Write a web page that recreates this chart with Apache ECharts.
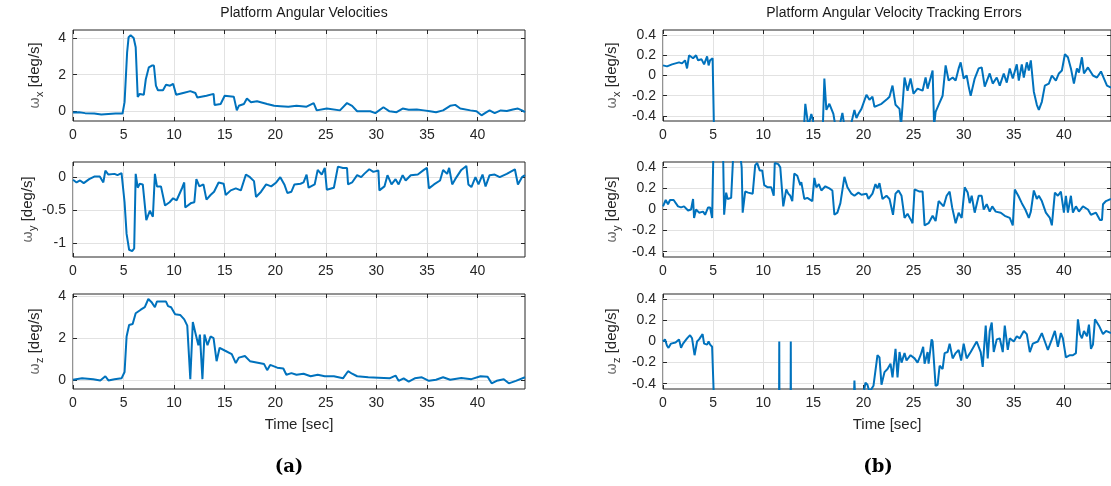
<!DOCTYPE html>
<html>
<head>
<meta charset="utf-8">
<script src="https://cdn.jsdelivr.net/npm/echarts@6/dist/echarts.min.js"></script>
<style>
  html, body { margin: 0; padding: 0; background: #fff; }
  #chart { width: 1111px; height: 486px; }
</style>
</head>
<body>
<div id="chart"></div>
<script>
// ---- data: [time (s), value (deg/s)] ----
const wxVel = [
  [0, -0.07], [0.6, -0.05], [1.2, -0.1], [2.1, -0.12], [2.8, -0.18], [3.5, -0.15], [4.2, -0.12], [4.9, -0.12],
  [5.1, 0.5], [5.35, 3.2], [5.5, 4.05], [5.7, 4.15], [6.0, 4.0], [6.2, 3.5], [6.4, 0.78], [6.6, 0.95], [7.0, 0.9],
  [7.2, 1.75], [7.5, 2.4], [7.8, 2.5], [8.0, 2.5], [8.2, 1.4], [8.4, 1.15], [8.9, 1.15], [9.2, 1.45], [9.6, 1.4],
  [9.9, 1.5], [10.2, 0.9], [10.9, 1.0], [11.6, 1.1], [12.1, 1.0], [12.3, 0.75], [13.2, 0.85], [13.9, 0.95],
  [14.0, 0.35], [14.6, 0.4], [15.0, 0.85], [15.9, 0.8], [16.2, 0.05], [16.4, 0.3], [16.9, 0.4], [17.2, 0.7],
  [17.6, 0.5], [18.2, 0.55], [19.2, 0.4], [19.9, 0.3], [20.5, 0.28], [21.3, 0.25], [22.1, 0.3], [23.1, 0.25],
  [23.8, 0.45], [24.1, 0.05], [25.1, 0.15], [26.4, 0.05], [27.1, 0.45], [27.6, 0.3], [28.1, 0.0], [29.4, 0.0],
  [29.9, -0.1], [30.7, 0.22], [31.3, 0.0], [32.0, -0.05], [32.6, 0.15], [33.2, 0.08], [34.0, 0.1], [34.7, 0.05],
  [35.3, 0.0], [35.9, -0.05], [36.6, 0.05], [37.3, 0.3], [37.8, 0.35], [38.3, 0.15], [39.3, 0.05], [39.9, 0.0],
  [40.4, -0.22], [40.9, -0.05], [41.2, 0.05], [41.7, -0.1], [42.3, 0.05], [42.9, 0.02], [43.5, 0.1], [44.0, 0.15],
  [44.4, 0.05], [44.7, -0.05]
];
const wyVel = [
  [0, -0.04], [0.35, -0.08], [0.7, -0.05], [1.06, -0.09], [1.6, -0.03], [2.1, 0.01], [2.65, 0.01], [3.0, -0.08],
  [3.2, 0.1], [3.5, 0.04], [4.1, 0.05], [4.4, 0.03], [4.8, 0.06], [4.95, 0.08], [5.1, -0.38], [5.3, -0.86],
  [5.55, -1.1], [5.85, -1.12], [6.05, -1.08], [6.2, 0.05], [6.4, -0.16], [6.6, -0.1], [6.9, -0.11], [7.25, -0.65],
  [7.6, -0.51], [7.9, -0.6], [8.1, 0.05], [8.3, -0.14], [8.7, -0.14], [9.1, -0.43], [9.55, -0.38], [9.9, -0.32],
  [10.25, -0.35], [10.8, -0.16], [11.0, -0.08], [11.1, -0.46], [11.7, -0.39], [12.0, -0.38], [12.2, -0.03],
  [12.5, -0.14], [12.9, -0.11], [13.2, -0.34], [13.6, -0.27], [13.95, -0.22], [14.4, -0.08], [14.9, -0.1],
  [15.1, -0.27], [15.6, -0.2], [16.1, -0.17], [16.6, -0.2], [17.1, 0.04], [17.5, 0.0], [17.9, -0.06], [18.1, -0.3],
  [18.6, -0.22], [19.1, -0.11], [19.6, -0.14], [20.1, -0.08], [20.5, 0.0], [20.9, -0.11], [21.2, -0.24],
  [21.6, -0.22], [21.9, -0.11], [22.5, -0.1], [22.8, -0.08], [23.1, 0.04], [23.3, -0.16], [23.9, -0.11],
  [24.2, 0.11], [24.6, 0.04], [24.9, 0.14], [25.1, -0.19], [25.8, -0.16], [26.2, 0.16], [26.7, 0.14], [27.1, 0.14],
  [27.2, -0.11], [27.6, -0.08], [28.1, 0.03], [28.5, 0.0], [28.8, 0.05], [29.3, 0.12], [29.7, 0.08], [30.2, 0.1],
  [30.3, -0.2], [30.8, -0.14], [31.1, 0.03], [31.5, -0.11], [31.9, -0.03], [32.2, -0.11], [32.6, 0.03],
  [32.9, -0.05], [33.4, 0.03], [34.1, 0.04], [34.7, 0.11], [35.0, 0.14], [35.2, -0.17], [35.7, -0.11],
  [36.3, -0.05], [36.6, 0.11], [37.0, 0.05], [37.2, 0.14], [37.5, -0.11], [37.8, -0.03], [38.4, 0.11], [38.9, 0.17],
  [39.1, -0.11], [39.4, -0.15], [39.8, 0.0], [40.1, -0.11], [40.5, 0.04], [40.8, -0.14], [41.2, 0.03], [41.7, 0.04],
  [42.2, 0.0], [42.9, 0.05], [43.7, 0.12], [44.0, -0.11], [44.4, 0.0], [44.7, 0.03]
];
const wzVel = [
  [0, 0.0], [0.9, 0.07], [2.0, 0.03], [2.7, -0.03], [3.2, 0.17], [3.5, -0.03], [4.1, 0.03], [4.8, 0.07],
  [5.1, 0.37], [5.3, 2.07], [5.55, 2.62], [5.9, 2.67], [6.2, 3.18], [6.7, 3.35], [7.1, 3.47], [7.45, 3.86],
  [7.8, 3.69], [8.1, 3.47], [8.3, 3.74], [8.8, 3.74], [9.2, 3.74], [9.4, 3.52], [9.7, 3.47], [10.1, 3.13],
  [10.6, 3.1], [11.0, 2.89], [11.3, 2.59], [11.6, 0.03], [11.85, 2.76], [12.1, 2.25], [12.4, 1.65], [12.55, 2.16],
  [12.8, 0.03], [13.0, 2.16], [13.3, 1.65], [13.6, 2.07], [13.9, 1.99], [14.2, 0.89], [14.5, 1.53], [15.0, 1.4],
  [15.7, 1.23], [16.1, 0.8], [16.4, 1.06], [17.0, 1.14], [17.5, 0.89], [18.4, 0.8], [18.9, 0.75], [19.2, 0.46],
  [19.5, 0.71], [20.2, 0.58], [20.8, 0.54], [21.1, 0.24], [21.6, 0.32], [22.1, 0.24], [22.8, 0.29], [23.5, 0.17],
  [24.2, 0.24], [24.9, 0.17], [25.8, 0.17], [26.7, 0.07], [27.2, 0.41], [27.6, 0.29], [28.1, 0.17], [29.2, 0.12],
  [30.2, 0.1], [31.3, 0.07], [31.9, 0.2], [32.2, -0.05], [32.7, 0.07], [33.2, -0.09], [33.8, 0.07], [34.5, 0.12],
  [35.2, -0.05], [35.9, 0.0], [36.6, 0.12], [37.3, 0.0], [38.4, 0.09], [39.4, 0.03], [40.3, 0.17], [41.0, 0.15],
  [41.4, -0.17], [41.9, -0.05], [42.6, 0.03], [43.1, -0.17], [43.8, -0.05], [44.7, 0.12]
];
const wxErr = [
  [0, 0.1], [0.4, 0.09], [0.9, 0.11], [1.6, 0.13], [1.9, 0.12], [2.2, 0.15], [2.4, 0.07], [2.6, 0.2], [3.0, 0.17],
  [3.3, 0.2], [3.5, 0.15], [3.85, 0.16], [4.1, 0.11], [4.4, 0.19], [4.55, 0.1], [4.7, 0.15], [4.95, 0.17],
  [5.1, -0.6], [5.4, -3.2], [5.7, -4.1], [6.3, -1.5], [7.5, -2.4], [8.3, -1.2], [10.0, -1.3], [12.0, -0.9],
  [13.9, -0.8], [14.2, -0.28], [14.5, -0.5], [14.8, -0.38], [15.0, -0.46], [15.5, -0.6], [15.95, -0.5],
  [16.1, -0.03], [16.3, -0.34], [16.6, -0.28], [17.0, -0.38], [17.2, -0.5], [17.5, -0.55], [17.9, -0.37],
  [18.1, -0.5], [18.6, -0.55], [19.1, -0.34], [19.3, -0.42], [19.55, -0.37], [19.8, -0.33], [20.3, -0.19],
  [20.6, -0.24], [20.9, -0.21], [21.1, -0.31], [21.8, -0.28], [22.4, -0.23], [22.6, -0.21], [22.9, -0.1],
  [23.2, -0.29], [23.6, -0.33], [23.75, -0.5], [24.1, -0.02], [24.4, -0.15], [24.7, -0.03], [25.0, -0.18],
  [25.4, -0.13], [25.9, -0.15], [26.2, -0.02], [26.4, -0.13], [26.9, 0.05], [27.05, -0.5], [27.2, -0.36],
  [27.5, -0.29], [27.9, -0.2], [28.2, 0.1], [28.5, -0.05], [28.9, -0.02], [29.2, -0.05], [29.5, 0.07],
  [29.7, 0.13], [30.0, -0.03], [30.3, 0.0], [30.5, -0.11], [30.7, -0.2], [31.1, -0.03], [31.5, 0.07],
  [31.8, 0.08], [32.1, -0.11], [32.6, 0.02], [32.9, -0.08], [33.3, -0.02], [33.6, -0.1], [34.0, 0.02],
  [34.3, -0.07], [34.6, 0.07], [34.9, -0.03], [35.3, 0.11], [35.5, -0.05], [35.8, 0.11], [36.0, -0.02],
  [36.3, 0.13], [36.5, 0.05], [36.7, 0.15], [37.0, -0.16], [37.3, -0.29], [37.5, -0.34], [37.8, -0.26],
  [38.1, -0.1], [38.5, -0.08], [38.8, 0.0], [39.2, -0.05], [39.5, 0.02], [39.8, 0.05], [40.1, 0.21], [40.4, 0.18],
  [40.7, 0.07], [41.0, -0.08], [41.3, 0.07], [41.5, 0.03], [41.8, 0.18], [42.0, 0.02], [42.4, 0.08], [42.9, 0.0],
  [43.3, -0.02], [43.7, 0.04], [44.0, -0.03], [44.3, -0.1], [44.7, -0.12]
];
const wyErr = [
  [0, 0.03], [0.27, 0.09], [0.5, 0.05], [0.7, 0.09], [1.06, 0.09], [1.5, 0.03], [1.8, 0.02], [2.1, 0.03],
  [2.5, -0.01], [2.8, 0.0], [3.0, 0.1], [3.1, -0.08], [3.3, 0.0], [3.6, -0.03], [4.0, -0.02], [4.2, -0.05],
  [4.5, 0.02], [4.7, 0.02], [4.9, -0.08], [5.1, 0.9], [5.6, 1.1], [6.0, 0.5], [6.1, -0.05], [6.3, 0.16],
  [6.45, 0.1], [6.8, 0.11], [7.05, 0.6], [7.5, 0.7], [7.85, 0.4], [7.95, -0.03], [8.2, 0.17], [8.5, 0.16],
  [8.95, 0.15], [9.2, 0.42], [9.4, 0.44], [9.65, 0.37], [9.9, 0.37], [10.1, 0.23], [10.45, 0.21], [10.8, 0.21],
  [11.05, 0.13], [11.15, 0.44], [11.5, 0.43], [11.7, 0.4], [12.0, 0.03], [12.3, 0.19], [12.5, 0.15], [12.7, 0.13],
  [12.9, 0.08], [13.1, 0.34], [13.4, 0.32], [13.7, 0.23], [13.8, 0.26], [14.1, 0.1], [14.4, 0.11], [14.9, 0.08],
  [15.1, 0.3], [15.3, 0.21], [15.55, 0.24], [15.8, 0.18], [16.2, 0.22], [16.6, 0.2], [16.9, 0.18], [17.1, -0.05],
  [17.4, -0.03], [17.7, 0.06], [18.1, 0.31], [18.4, 0.21], [18.8, 0.15], [19.1, 0.13], [19.5, 0.16], [19.8, 0.14],
  [20.3, 0.15], [20.5, 0.1], [20.9, 0.15], [21.2, 0.24], [21.4, 0.2], [21.6, 0.25], [21.9, 0.1], [22.3, 0.13],
  [22.6, 0.1], [22.95, -0.05], [23.2, 0.15], [23.5, 0.18], [23.8, 0.13], [24.1, -0.08], [24.4, -0.04],
  [24.8, -0.11], [24.9, -0.13], [25.1, 0.19], [25.6, 0.17], [25.9, 0.17], [26.1, -0.15], [26.5, -0.13],
  [26.9, -0.06], [27.2, -0.11], [27.5, 0.08], [28.0, 0.03], [28.3, 0.13], [28.6, 0.17], [28.85, 0.02],
  [29.2, -0.13], [29.5, -0.03], [29.8, -0.08], [30.1, 0.21], [30.4, 0.16], [30.6, 0.06], [30.8, 0.13],
  [31.1, -0.03], [31.5, 0.13], [31.8, 0.13], [32.0, 0.0], [32.3, 0.05], [32.6, -0.02], [32.85, 0.03],
  [33.2, -0.02], [33.7, -0.03], [34.1, -0.06], [34.6, -0.08], [34.9, -0.15], [35.1, 0.19], [35.45, 0.13],
  [35.8, 0.06], [36.15, 0.0], [36.5, -0.08], [36.7, -0.02], [37.0, 0.18], [37.3, 0.1], [37.5, 0.13],
  [37.8, 0.08], [38.2, -0.03], [38.6, -0.08], [38.8, -0.15], [39.1, 0.16], [39.4, 0.13], [39.7, 0.17],
  [40.0, -0.03], [40.2, 0.13], [40.4, -0.03], [40.7, 0.13], [40.9, -0.03], [41.2, 0.03], [41.5, -0.02],
  [41.9, 0.03], [42.4, 0.0], [42.7, -0.05], [43.2, -0.03], [43.6, -0.1], [43.8, -0.1], [43.9, 0.05],
  [44.2, 0.08], [44.7, 0.1]
];
const wzErr = [
  [0, 0.0], [0.2, 0.02], [0.4, -0.04], [0.55, -0.06], [0.8, -0.02], [1.25, -0.01], [1.6, 0.02], [1.8, -0.06],
  [2.0, -0.02], [2.4, 0.03], [2.7, 0.06], [2.9, 0.03], [3.15, -0.13], [3.4, 0.0], [3.6, 0.02], [3.95, 0.07],
  [4.1, -0.02], [4.4, -0.03], [4.55, 0.0], [4.7, -0.03], [4.9, -0.05], [5.1, -0.6], [5.4, -2.6], [7.5, -3.8],
  [9.0, -3.7], [11.3, -2.6], [11.55, -1.5], [11.6, 0.0], [11.65, -1.6], [12.7, -1.8], [12.75, 0.0], [12.8, -1.8],
  [13.5, -1.7], [15.0, -1.4], [17.0, -1.0], [19.0, -0.7], [19.1, -0.37], [19.2, -0.6], [20.0, -0.5],
  [20.2, -0.39], [20.4, -0.41], [20.6, -0.48], [21.0, -0.42], [21.4, -0.13], [21.6, -0.15], [21.8, -0.41],
  [22.1, -0.29], [22.4, -0.26], [22.7, -0.21], [22.9, -0.34], [23.2, -0.07], [23.4, -0.34], [23.6, -0.1],
  [23.8, -0.2], [24.1, -0.11], [24.3, -0.18], [24.7, -0.13], [25.1, -0.16], [25.4, -0.2], [25.7, -0.13],
  [25.96, -0.05], [26.1, -0.21], [26.4, -0.1], [26.5, -0.21], [26.8, 0.02], [26.9, 0.0], [27.2, -0.42],
  [27.4, -0.41], [27.6, -0.23], [27.9, -0.26], [28.1, -0.11], [28.4, -0.1], [28.6, -0.02], [28.9, -0.16],
  [29.2, -0.11], [29.5, -0.08], [29.75, -0.18], [30.0, -0.02], [30.3, -0.16], [30.7, -0.1], [31.0, -0.05],
  [31.3, 0.0], [31.7, -0.1], [31.9, -0.24], [32.2, 0.15], [32.4, -0.16], [32.6, 0.1], [32.8, 0.18], [33.0, -0.1],
  [33.3, 0.02], [33.6, 0.03], [33.9, -0.1], [34.1, 0.15], [34.4, -0.08], [34.6, 0.03], [35.0, 0.0], [35.3, 0.05],
  [35.6, 0.03], [36.0, 0.1], [36.3, 0.07], [36.6, -0.1], [36.9, -0.02], [37.4, 0.0], [37.8, 0.08], [38.1, 0.0],
  [38.4, -0.08], [38.8, 0.02], [39.1, 0.1], [39.4, -0.05], [39.7, 0.08], [39.9, 0.03], [40.2, -0.15],
  [40.6, -0.13], [40.9, -0.13], [41.2, -0.11], [41.4, 0.21], [41.6, 0.07], [41.8, 0.03], [42.0, 0.1], [42.3, 0.05],
  [42.5, 0.16], [42.7, -0.07], [42.9, -0.03], [43.1, 0.21], [43.5, 0.15], [43.9, 0.07], [44.2, 0.1], [44.7, 0.08]
];

// ---- axes ticks and limits ----
const timeTicks = [0, 5, 10, 15, 20, 25, 30, 35, 40];
const timeMax = 44.7;
const velLimits = [[-0.53, 4.44], [-1.21, 0.23], [-0.44, 4.1]];
const velTicks = [[0, 2, 4], [-1, -0.5, 0], [0, 2, 4]];
const errLimits = [-0.45, 0.45];
const errTicks = [-0.4, -0.2, 0, 0.2, 0.4];
const axisNames = ['x', 'y', 'z'];

const dark = '#262626';
const font = 'Liberation Sans, Arial, sans-serif';
const lineBlue = '#0072BD';

// plot boxes (pixels)
const colLeft = [73, 663];
const boxWidth = 452;
const rowTop = [30, 162, 294];
const rowHeight = [91, 95, 95];

const grids = [], xAxes = [], yAxes = [], series = [];
const panels = [
  { col: 0, row: 0, data: wxVel, lim: velLimits[0], ticks: velTicks[0] },
  { col: 0, row: 1, data: wyVel, lim: velLimits[1], ticks: velTicks[1] },
  { col: 0, row: 2, data: wzVel, lim: velLimits[2], ticks: velTicks[2] },
  { col: 1, row: 0, data: wxErr, lim: errLimits, ticks: errTicks },
  { col: 1, row: 1, data: wyErr, lim: errLimits, ticks: errTicks },
  { col: 1, row: 2, data: wzErr, lim: errLimits, ticks: errTicks }
];

// small inward ticks, also used on the top / right box edges (matlab "box on")
const tickStyle = (values) => ({ show: true, inside: true, length: 4, lineStyle: { color: dark }, customValues: values });

panels.forEach((p, i) => {
  grids.push({
    left: colLeft[p.col], top: rowTop[p.row], width: boxWidth, height: rowHeight[p.row],
    show: true, borderColor: dark, borderWidth: 1, backgroundColor: 'transparent'
  });
  xAxes.push({
    gridIndex: i, type: 'value', min: 0, max: timeMax, position: 'bottom',
    name: p.row === 2 ? 'Time [sec]' : '',
    nameLocation: 'middle', nameGap: 28,
    nameTextStyle: { color: dark, fontSize: 15, fontFamily: font },
    axisLine: { show: false, onZero: false },
    axisTick: tickStyle(timeTicks),
    axisLabel: { color: dark, fontSize: 14, fontFamily: font, margin: 7, customValues: timeTicks },
    splitLine: { show: true, lineStyle: { color: '#e2e2e2', width: 1 } }
  });
  yAxes.push({
    gridIndex: i, type: 'value', min: p.lim[0], max: p.lim[1], position: 'left',
    name: '{w|ω}{s|' + axisNames[p.row] + '}{n| [deg/s]}',
    nameLocation: 'middle', nameRotate: 90,
    nameGap: p.col === 0 ? 28 : 41,
    nameTextStyle: {
      fontFamily: font,
      rich: {
        w: { fontSize: 14, color: '#6b6b6b', lineHeight: 20, fontFamily: 'DejaVu Sans' },
        s: { fontSize: 11, color: dark, lineHeight: 11, verticalAlign: 'bottom', fontFamily: font },
        n: { fontSize: 15, color: dark, lineHeight: 20, fontFamily: font }
      }
    },
    axisLine: { show: false, onZero: false },
    axisTick: tickStyle(p.ticks),
    axisLabel: { color: dark, fontSize: 14, fontFamily: font, margin: 7, customValues: p.ticks },
    splitLine: { show: true, lineStyle: { color: '#e2e2e2', width: 1 } }
  });
  series.push({
    type: 'line', xAxisIndex: i, yAxisIndex: i, data: p.data,
    showSymbol: false, clip: true,
    lineStyle: { color: lineBlue, width: 2 },
    silent: true, animation: false
  });
});

// mirror axes for the top and right tick marks
panels.forEach((p, i) => {
  xAxes.push({
    gridIndex: i, type: 'value', min: 0, max: timeMax, position: 'top',
    axisLine: { show: false, onZero: false }, axisTick: tickStyle(timeTicks),
    axisLabel: { show: false }, splitLine: { show: false }
  });
  yAxes.push({
    gridIndex: i, type: 'value', min: p.lim[0], max: p.lim[1], position: 'right',
    axisLine: { show: false, onZero: false }, axisTick: tickStyle(p.ticks),
    axisLabel: { show: false }, splitLine: { show: false }
  });
});

const chart = echarts.init(document.getElementById('chart'), null, { renderer: 'canvas' });
chart.setOption({
  backgroundColor: '#fff',
  animation: false,
  title: [
    { text: 'Platform Angular Velocities', left: colLeft[0] + boxWidth / 2, top: 1, textAlign: 'center',
      textStyle: { color: '#1a1a1a', fontSize: 14, fontWeight: 'normal', fontFamily: font } },
    { text: 'Platform Angular Velocity Tracking Errors', left: colLeft[1] + boxWidth / 2, top: 1, textAlign: 'center',
      textStyle: { color: '#1a1a1a', fontSize: 14, fontWeight: 'normal', fontFamily: font } },
    { text: '{p|(}{b|a}{p|)}', left: 284, top: 453, textAlign: 'center',
      textStyle: { rich: { p: { fontSize: 18, fontFamily: 'DejaVu Serif', color: '#000' },
                           b: { fontSize: 18, fontFamily: 'DejaVu Serif', fontWeight: 'bold', color: '#000' } } } },
    { text: '{p|(}{b|b}{p|)}', left: 873, top: 453, textAlign: 'center',
      textStyle: { rich: { p: { fontSize: 18, fontFamily: 'DejaVu Serif', color: '#000' },
                           b: { fontSize: 18, fontFamily: 'DejaVu Serif', fontWeight: 'bold', color: '#000' } } } }
  ],
  grid: grids,
  xAxis: xAxes,
  yAxis: yAxes,
  series: series
});
</script>
</body>
</html>
